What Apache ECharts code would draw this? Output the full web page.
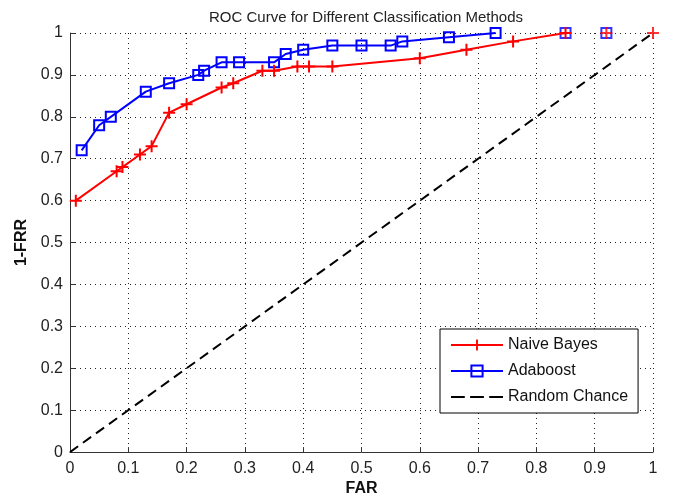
<!DOCTYPE html>
<html>
<head>
<meta charset="utf-8">
<script src="https://cdn.jsdelivr.net/npm/echarts@6/dist/echarts.min.js"></script>
<style>html,body{margin:0;padding:0;background:#fff}#c{width:678px;height:502px}</style>
</head>
<body>
<div id="c"></div>
<script>
// Naive Bayes (connected part and marker-only tail on the top edge)
var nbFar = [0.01,0.08,0.09,0.12,0.14,0.17,0.20,0.26,0.28,0.33,0.35,0.39,0.41,0.45,0.60,0.68,0.76,0.85];
var nbTpr = [0.60,0.67,0.68,0.71,0.73,0.81,0.83,0.87,0.88,0.91,0.91,0.92,0.92,0.92,0.94,0.96,0.98,1.00];
var nbTailFar = [0.92,1.00];
var nbTailTpr = [1.00,1.00];
// Adaboost
var abFar = [0.02,0.05,0.07,0.13,0.17,0.22,0.23,0.26,0.29,0.35,0.37,0.40,0.45,0.50,0.55,0.57,0.65,0.73];
var abTpr = [0.72,0.78,0.80,0.86,0.88,0.90,0.91,0.93,0.93,0.93,0.95,0.96,0.97,0.97,0.97,0.98,0.99,1.00];
var abTailFar = [0.85,0.92];
var abTailTpr = [1.00,1.00];
// Random chance
var rcFar = [0,1];
var rcTpr = [0,1];

function pairs(xs, ys){ return xs.map(function(x,i){ return [x, ys[i]]; }); }

var plusPath = 'path://M5,0H7V12H5Z M0,5H12V7H0Z';
var dashIcon = 'path://M2,0H15V2H2Z M20,0H33V2H20Z M38,0H51V2H38Z';
var font = 'Liberation Sans, Arial, sans-serif';

var chart = echarts.init(document.getElementById('c'), null, {renderer:'canvas'});
chart.setOption({
  animation: false,
  backgroundColor: '#fff',
  title: {
    text: 'ROC Curve for Different Classification Methods',
    left: 361, top: 5, textAlign: 'center',
    textStyle: {fontFamily: font, fontSize: 15, fontWeight: 'normal', color: '#222'}
  },
  grid: {left: 70, right: 25, top: 33, bottom: 49, containLabel: false},
  legend: {
    orient: 'vertical', left: 440, top: 329,
    padding: [8, 10, 8, 10], itemGap: 10,
    itemWidth: 52, itemHeight: 14, symbolKeepAspect: true,
    borderColor: '#000', borderWidth: 1, backgroundColor: '#fff',
    textStyle: {fontFamily: font, fontSize: 16, color: '#111'},
    data: ['Naive Bayes', 'Adaboost', {name: 'Random Chance', icon: dashIcon, itemStyle: {color: '#000'}}]
  },
  xAxis: {
    type: 'value', min: 0, max: 1, interval: 0.1,
    name: 'FAR', nameLocation: 'middle', nameGap: 27,
    nameTextStyle: {fontFamily: font, fontSize: 16, fontWeight: 'bold', color: '#111'},
    axisLine: {show: true, lineStyle: {color: '#333', width: 1}},
    axisTick: {show: true, inside: true, length: 5, lineStyle: {color: '#333'}},
    axisLabel: {fontFamily: font, fontSize: 16, color: '#222', margin: 8},
    splitLine: {show: true, lineStyle: {color: '#222', type: [1, 4], width: 1}}
  },
  yAxis: {
    type: 'value', min: 0, max: 1, interval: 0.1,
    name: '1-FRR', nameLocation: 'middle', nameGap: 38, nameRotate: 90,
    nameTextStyle: {fontFamily: font, fontSize: 16, fontWeight: 'bold', color: '#111'},
    axisLine: {show: true, lineStyle: {color: '#333', width: 1}},
    axisTick: {show: true, inside: true, length: 5, lineStyle: {color: '#333'}},
    axisLabel: {fontFamily: font, fontSize: 16, color: '#222', margin: 7},
    splitLine: {show: true, lineStyle: {color: '#222', type: [1, 4], width: 1}}
  },
  series: [
    {
      name: 'Random Chance', type: 'line', data: pairs(rcFar, rcTpr),
      symbol: 'none', z: 1,
      itemStyle: {color: '#000'},
      lineStyle: {color: '#000', width: 2, type: [10, 6]}
    },
    {
      name: 'Adaboost', type: 'line', data: pairs(abFar, abTpr),
      symbol: 'rect', symbolSize: 10, clip: false, z: 2,
      itemStyle: {color: 'rgba(255,255,255,0)', borderColor: '#0000ff', borderWidth: 2},
      lineStyle: {color: '#0000ff', width: 2}
    },
    {
      name: 'Adaboost', type: 'scatter', data: pairs(abTailFar, abTailTpr),
      symbol: 'rect', symbolSize: 10, clip: false, z: 2,
      itemStyle: {color: 'rgba(255,255,255,0)', borderColor: '#0000ff', borderWidth: 2}
    },
    {
      name: 'Naive Bayes', type: 'line', data: pairs(nbFar, nbTpr),
      symbol: plusPath, symbolSize: 12, clip: false, z: 3,
      itemStyle: {color: '#ff0000'},
      lineStyle: {color: '#ff0000', width: 2}
    },
    {
      name: 'Naive Bayes', type: 'scatter', data: pairs(nbTailFar, nbTailTpr),
      symbol: plusPath, symbolSize: 12, clip: false, z: 3,
      itemStyle: {color: '#ff0000'}
    }
  ]
});
</script>
</body>
</html>
